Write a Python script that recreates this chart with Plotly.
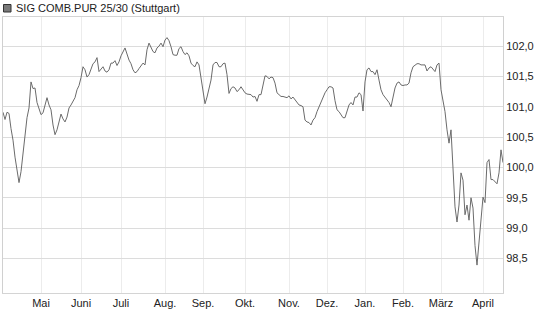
import plotly.graph_objects as go

series_name = "SIG COMB.PUR 25/30 (Stuttgart)"

prices = [
    100.91, 100.79, 100.91, 100.89, 100.64, 100.45, 100.17, 99.99, 99.75, 99.93,
    100.21, 100.49, 100.82, 100.98, 101.41, 101.30, 101.31, 101.07, 100.95, 100.87,
    100.90, 101.03, 101.15, 101.03, 100.95, 100.70, 100.54, 100.62, 100.78, 100.88,
    100.80, 100.75, 100.83, 100.98, 101.03, 101.08, 101.15, 101.28, 101.35, 101.48,
    101.66, 101.61, 101.49, 101.53, 101.64, 101.71, 101.74, 101.81, 101.58, 101.63,
    101.66, 101.59, 101.57, 101.61, 101.72, 101.72, 101.76, 101.68, 101.74, 101.84,
    101.92, 101.97, 101.87, 101.77, 101.71, 101.61, 101.56, 101.58, 101.63, 101.68,
    101.72, 101.69, 101.94, 102.05, 101.97, 101.91, 101.89, 101.97, 102.00, 102.05,
    101.99, 102.10, 102.14, 102.09, 101.99, 101.86, 101.85, 101.85, 101.96, 101.99,
    101.91, 101.86, 101.89, 101.84, 101.72, 101.68, 101.66, 101.74, 101.69, 101.48,
    101.25, 101.05, 101.16, 101.31, 101.44, 101.69, 101.73, 101.73, 101.66, 101.66,
    101.71, 101.72, 101.53, 101.22, 101.30, 101.33, 101.31, 101.25, 101.28, 101.33,
    101.28, 101.23, 101.21, 101.20, 101.20, 101.16, 101.17, 101.09, 101.20, 101.20,
    101.33, 101.51, 101.50, 101.46, 101.49, 101.48, 101.39, 101.23, 101.20, 101.17,
    101.17, 101.16, 101.15, 101.18, 101.13, 101.16, 101.11, 101.07, 101.03, 101.02,
    101.00, 100.78, 100.75, 100.74, 100.70, 100.78, 100.82, 100.92, 101.00, 101.08,
    101.16, 101.23, 101.28, 101.33, 101.33, 101.31, 101.10, 100.95, 100.92, 100.87,
    100.82, 100.82, 100.95, 101.03, 101.07, 101.03, 101.16, 101.16, 101.23, 101.20,
    100.93, 101.41, 101.61, 101.64, 101.58, 101.58, 101.53, 101.61, 101.44, 101.28,
    101.20, 101.16, 101.11, 101.07, 101.00, 101.16, 101.31, 101.39, 101.41, 101.36,
    101.35, 101.36, 101.36, 101.39, 101.56, 101.66, 101.69, 101.71, 101.71, 101.69,
    101.69, 101.69, 101.59, 101.64, 101.66, 101.61, 101.58, 101.69, 101.72, 101.28,
    101.11, 100.92, 100.62, 100.40, 100.62, 99.96, 99.35, 99.10, 99.38, 99.91,
    99.79, 99.22, 99.38, 99.13, 99.50, 99.33, 98.71, 98.39, 98.81, 99.13,
    99.51, 99.42, 100.08, 100.13, 99.80, 99.80, 99.76, 99.73, 99.91, 100.29,
    100.08,
]
day_index = list(range(len(prices)))

month_labels = ["Mai", "Juni", "Juli", "Aug.", "Sep.", "Okt.", "Nov.",
                "Dez.", "Jan.", "Feb.", "März", "April"]
month_start_index = [19, 39, 59, 81, 100, 121, 143, 162, 181, 200, 219, 240]

y_ticks = [98.5, 99.0, 99.5, 100.0, 100.5, 101.0, 101.5, 102.0]

font_family = "Liberation Sans, Arial, sans-serif"

fig = go.Figure()
fig.add_trace(go.Scatter(
    x=day_index, y=prices, mode="lines",
    line=dict(color="#6b6b6b", width=1),
    name=series_name, showlegend=False, hoverinfo="skip",
))

fig.update_layout(
    width=545, height=327,
    margin=dict(l=3, r=42, t=17, b=34, pad=0),
    paper_bgcolor="white", plot_bgcolor="white",
    separators=",.",
    font=dict(family=font_family, size=11, color="#222222"),
    showlegend=False,
    xaxis=dict(
        range=[0, len(prices) - 1],
        tickmode="array", tickvals=month_start_index, ticktext=month_labels,
        showgrid=True, gridcolor="#ececec", gridwidth=1,
        showline=True, linecolor="#d4d4d4", linewidth=1, mirror=True,
        ticks="", zeroline=False, fixedrange=True,
        tickfont=dict(size=11, color="#222222"),
    ),
    yaxis=dict(
        range=[97.93, 102.48], side="right",
        tickmode="array", tickvals=y_ticks, tickformat=".1f",
        showgrid=True, gridcolor="#dcdcdc", gridwidth=1,
        showline=True, linecolor="#d0d0d0", linewidth=1, mirror=True,
        ticks="", zeroline=False, fixedrange=True,
        tickfont=dict(size=11, color="#222222"),
    ),
    shapes=[dict(
        type="rect", xref="paper", yref="paper",
        xsizemode="pixel", ysizemode="pixel",
        xanchor=0, yanchor=1,
        x0=0.5, x1=8, y0=5, y1=12.5,
        fillcolor="#7a7a7a", line=dict(color="#333333", width=1),
    )],
    annotations=[dict(
        text=series_name, xref="paper", yref="paper",
        x=0.022, y=1, xanchor="left", yanchor="middle", yshift=9,
        showarrow=False, font=dict(family=font_family, size=11, color="#222222"),
    )],
)

fig.write_html("out.html", config={"displayModeBar": False})
